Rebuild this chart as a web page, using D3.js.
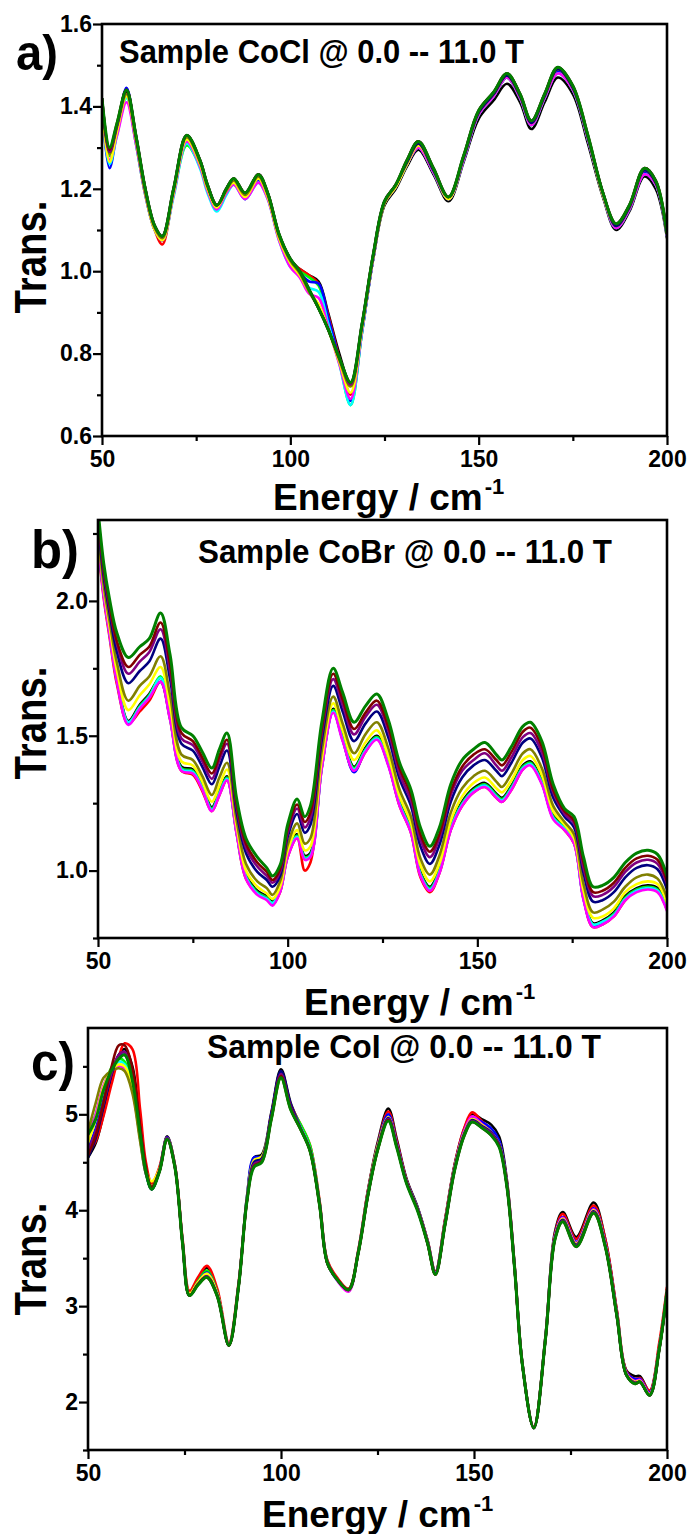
<!DOCTYPE html>
<html>
<head>
<meta charset="utf-8">
<script src="https://cdn.jsdelivr.net/npm/d3@7"></script>
<style>
  body { margin: 0; background: #fff; }
  svg { display: block; }
  text { font-family: "Liberation Sans", Arial, sans-serif; font-weight: bold; fill: #000; }
</style>
</head>
<body>
<svg id="chart" width="691" height="1534"></svg>
<script>
// field steps, one curve each (0.0 -- 11.0 T)
const fields = [0, 1, 2, 3, 4, 5, 6, 7, 8, 9, 10, 11];
const xTicks = [50, 100, 150, 200];
const xMinor = [75, 125, 175];

// ---- a) CoCl ----
const energyA = [50,52,54,56.5,59,61.5,64,66,69,72.5, 76,78,80.5,83,85,88,91.5,94,97,100,
  102.5,105,107.5,110,113,116,119,122,125,128, 131,134,138,142,146,150,154,157.5,161,164,
  167.5,171,175,179,183,186.5,190,194,197,200];
const cocl_0T = [1.40,1.29,1.35,1.435,1.32,1.19,1.105,1.08,1.19,1.32, 1.26,1.20,1.155,1.19,1.215,1.18,1.225,1.18,1.08,1.025,
  1.005,0.99,0.975,0.90,0.80,0.725,0.86,1.03,1.16,1.20, 1.255,1.295,1.235,1.17,1.265,1.37,1.415,1.455,1.41,1.345,
  1.41,1.47,1.43,1.31,1.18,1.10,1.145,1.23,1.20,1.08];
const cocl_1T = [1.40,1.28,1.35,1.43,1.32,1.19,1.10,1.065,1.19,1.325, 1.265,1.205,1.16,1.195,1.22,1.185,1.23,1.18,1.085,1.025,
  1.005,0.99,0.97,0.895,0.79,0.70,0.855,1.03,1.165,1.205, 1.26,1.305,1.24,1.175,1.27,1.38,1.425,1.47,1.42,1.355,
  1.42,1.485,1.44,1.32,1.185,1.105,1.15,1.24,1.21,1.085];
const cocl_2T = [1.40,1.28,1.34,1.425,1.31,1.185,1.10,1.075,1.185,1.305, 1.255,1.20,1.15,1.19,1.215,1.18,1.225,1.18,1.08,1.02,
  1.00,0.985,0.965,0.885,0.78,0.675,0.85,1.03,1.165,1.205, 1.26,1.305,1.24,1.175,1.27,1.38,1.425,1.47,1.42,1.355,
  1.42,1.485,1.44,1.32,1.185,1.105,1.15,1.24,1.21,1.085];
const cocl_3T = [1.39,1.25,1.34,1.445,1.32,1.19,1.10,1.075,1.19,1.315, 1.26,1.20,1.155,1.19,1.215,1.175,1.22,1.18,1.08,1.015,
  0.995,0.975,0.97,0.89,0.785,0.685,0.85,1.03,1.165,1.205, 1.26,1.305,1.24,1.175,1.27,1.38,1.425,1.47,1.42,1.355,
  1.42,1.485,1.44,1.32,1.185,1.105,1.15,1.24,1.21,1.085];
const cocl_4T = [1.39,1.26,1.33,1.42,1.31,1.185,1.10,1.075,1.18,1.31, 1.25,1.19,1.145,1.185,1.21,1.175,1.215,1.175,1.075,1.01,
  0.99,0.96,0.95,0.875,0.775,0.675,0.85,1.03,1.165,1.205, 1.26,1.30,1.24,1.175,1.27,1.38,1.425,1.47,1.42,1.355,
  1.42,1.48,1.44,1.32,1.185,1.105,1.15,1.235,1.21,1.085];
const cocl_5T = [1.39,1.27,1.33,1.41,1.31,1.185,1.10,1.075,1.185,1.315, 1.255,1.195,1.15,1.19,1.21,1.175,1.215,1.175,1.075,1.01,
  0.985,0.945,0.935,0.865,0.775,0.69,0.855,1.03,1.165,1.205, 1.26,1.30,1.24,1.175,1.27,1.38,1.425,1.47,1.42,1.355,
  1.42,1.48,1.44,1.32,1.185,1.105,1.15,1.235,1.21,1.085];
const cocl_6T = [1.40,1.265,1.34,1.425,1.32,1.19,1.10,1.075,1.19,1.32, 1.26,1.20,1.155,1.195,1.215,1.18,1.225,1.18,1.08,1.02,
  0.99,0.95,0.92,0.86,0.78,0.705,0.86,1.035,1.165,1.205, 1.26,1.305,1.245,1.175,1.275,1.385,1.43,1.475,1.425,1.36,
  1.425,1.49,1.445,1.325,1.185,1.11,1.155,1.245,1.215,1.09];
const cocl_7T = [1.41,1.285,1.35,1.43,1.32,1.19,1.105,1.08,1.195,1.325, 1.265,1.205,1.16,1.195,1.22,1.185,1.23,1.185,1.085,1.025,
  0.995,0.95,0.91,0.86,0.785,0.72,0.865,1.035,1.165,1.21, 1.265,1.31,1.245,1.18,1.275,1.385,1.43,1.475,1.425,1.36,
  1.425,1.49,1.445,1.325,1.19,1.11,1.155,1.245,1.215,1.09];
const cocl_8T = [1.42,1.29,1.355,1.44,1.33,1.20,1.11,1.085,1.20,1.33, 1.27,1.21,1.16,1.20,1.225,1.19,1.235,1.19,1.09,1.03,
  1.00,0.955,0.91,0.86,0.79,0.73,0.87,1.04,1.17,1.21, 1.265,1.31,1.245,1.18,1.275,1.385,1.43,1.475,1.425,1.36,
  1.425,1.49,1.445,1.325,1.19,1.11,1.155,1.245,1.215,1.09];
const cocl_9T = [1.42,1.29,1.355,1.44,1.33,1.20,1.11,1.085,1.20,1.33, 1.27,1.21,1.16,1.20,1.225,1.19,1.235,1.19,1.09,1.03,
  1.00,0.955,0.91,0.86,0.79,0.725,0.87,1.04,1.17,1.21, 1.27,1.315,1.25,1.18,1.28,1.39,1.435,1.48,1.43,1.365,
  1.43,1.495,1.45,1.33,1.19,1.115,1.16,1.25,1.22,1.09];
const cocl_10T = [1.42,1.295,1.36,1.44,1.33,1.20,1.11,1.085,1.20,1.33, 1.27,1.21,1.16,1.20,1.225,1.19,1.235,1.19,1.09,1.03,
  1.00,0.955,0.91,0.86,0.79,0.73,0.87,1.04,1.17,1.21, 1.27,1.315,1.25,1.18,1.28,1.39,1.435,1.48,1.43,1.365,
  1.43,1.495,1.45,1.33,1.19,1.115,1.16,1.25,1.22,1.09];
const cocl_11T = [1.42,1.30,1.36,1.44,1.33,1.20,1.11,1.085,1.20,1.33, 1.27,1.21,1.16,1.20,1.225,1.19,1.235,1.19,1.09,1.03,
  1.00,0.955,0.91,0.86,0.79,0.73,0.87,1.04,1.17,1.21, 1.27,1.315,1.25,1.18,1.28,1.39,1.435,1.48,1.43,1.365,
  1.43,1.495,1.45,1.33,1.19,1.115,1.16,1.25,1.22,1.09];
const coclSeries = [cocl_0T, cocl_1T, cocl_2T, cocl_3T, cocl_4T, cocl_5T, cocl_6T, cocl_7T, cocl_8T, cocl_9T, cocl_10T, cocl_11T];

// ---- b) CoBr ----
const energyB = [50,51.5,53,55,58,61,63.5,66.5,69,72, 75,77.5,80,82,84,86.5,89,92,94.5,96,
  98,100,102.5,104.5,106,109,112,114.5,117.5,120.5, 123.5,126.5,129.5,132.5,135,137.5,140,143,146,149,
  152,155,156.5,159,162,164,167,170,173,175.5, 178,180.5,183,186,189,192,195,197.5,200];
const cobr_0T = [2.235,2.035,1.895,1.715,1.555,1.615,1.655,1.715,1.575,1.385, 1.375,1.315,1.235,1.295,1.35,1.155,0.985,0.925,0.905,0.885,
  0.935,1.065,1.135,1.055,1.065,1.395,1.60,1.495,1.385,1.455, 1.50,1.405,1.255,1.155,0.995,0.94,1.005,1.165,1.255,1.305,
  1.325,1.285,1.27,1.315,1.39,1.405,1.335,1.205,1.165,1.115, 0.905,0.805,0.815,0.845,0.905,0.935,0.945,0.935,0.865];
const cobr_1T = [2.21,2.01,1.87,1.69,1.545,1.59,1.63,1.70,1.56,1.37, 1.355,1.295,1.22,1.28,1.335,1.14,0.97,0.915,0.895,0.875,
  0.92,1.05,1.12,1.00,1.03,1.38,1.59,1.485,1.37,1.44, 1.49,1.395,1.24,1.14,0.975,0.92,0.99,1.15,1.24,1.29,
  1.31,1.27,1.255,1.30,1.375,1.395,1.325,1.195,1.15,1.10, 0.895,0.79,0.80,0.83,0.89,0.925,0.935,0.925,0.855];
const cobr_2T = [2.23,2.03,1.89,1.71,1.55,1.61,1.65,1.72,1.57,1.38, 1.37,1.31,1.23,1.29,1.345,1.15,0.98,0.92,0.90,0.88,
  0.93,1.06,1.13,1.05,1.06,1.39,1.595,1.49,1.38,1.45, 1.495,1.40,1.25,1.15,0.99,0.935,1.00,1.16,1.25,1.30,
  1.32,1.28,1.265,1.31,1.385,1.40,1.33,1.20,1.16,1.11, 0.90,0.80,0.81,0.84,0.90,0.93,0.94,0.93,0.86];
const cobr_3T = [2.225,2.025,1.885,1.705,1.545,1.605,1.645,1.70,1.565,1.375, 1.365,1.305,1.225,1.285,1.34,1.145,0.975,0.915,0.895,0.875,
  0.925,1.055,1.125,1.045,1.055,1.385,1.59,1.485,1.365,1.445, 1.49,1.395,1.245,1.145,0.985,0.93,0.995,1.155,1.245,1.295,
  1.315,1.275,1.26,1.305,1.38,1.395,1.325,1.195,1.155,1.105, 0.895,0.795,0.805,0.835,0.895,0.925,0.935,0.925,0.855];
const cobr_4T = [2.23,2.03,1.885,1.705,1.55,1.605,1.645,1.715,1.565,1.375, 1.365,1.305,1.225,1.285,1.34,1.145,0.975,0.915,0.895,0.88,
  0.925,1.055,1.125,1.045,1.055,1.385,1.59,1.485,1.375,1.445, 1.49,1.395,1.245,1.145,0.985,0.93,0.995,1.155,1.245,1.295,
  1.315,1.275,1.26,1.305,1.38,1.395,1.325,1.195,1.155,1.105, 0.895,0.80,0.81,0.835,0.895,0.925,0.935,0.925,0.855];
const cobr_5T = [2.22,2.02,1.88,1.70,1.54,1.60,1.64,1.70,1.56,1.37, 1.36,1.30,1.22,1.28,1.335,1.14,0.97,0.91,0.89,0.87,
  0.92,1.05,1.12,1.04,1.05,1.38,1.585,1.48,1.37,1.44, 1.485,1.39,1.24,1.14,0.98,0.925,0.99,1.15,1.24,1.29,
  1.31,1.27,1.255,1.30,1.375,1.39,1.32,1.19,1.15,1.10, 0.89,0.79,0.80,0.83,0.89,0.92,0.93,0.92,0.85];
const cobr_6T = [2.25,2.05,1.91,1.74,1.595,1.65,1.69,1.755,1.61,1.405, 1.39,1.33,1.255,1.315,1.375,1.17,1.00,0.94,0.915,0.895,
  0.94,1.075,1.15,1.075,1.09,1.415,1.62,1.52,1.41,1.475, 1.52,1.425,1.275,1.175,1.02,0.96,1.025,1.185,1.275,1.325,
  1.345,1.305,1.29,1.335,1.41,1.425,1.355,1.22,1.17,1.12, 0.925,0.825,0.83,0.86,0.92,0.95,0.96,0.95,0.88];
const cobr_7T = [2.26,2.06,1.93,1.77,1.63,1.685,1.72,1.795,1.65,1.43, 1.41,1.35,1.28,1.345,1.40,1.19,1.025,0.96,0.935,0.91,
  0.96,1.095,1.175,1.10,1.12,1.445,1.645,1.545,1.435,1.505, 1.55,1.455,1.30,1.20,1.045,0.985,1.055,1.215,1.305,1.35,
  1.37,1.33,1.31,1.36,1.435,1.45,1.38,1.24,1.18,1.135, 0.95,0.845,0.855,0.885,0.94,0.975,0.985,0.97,0.90];
const cobr_8T = [2.29,2.09,1.96,1.81,1.695,1.74,1.775,1.86,1.71,1.47, 1.445,1.385,1.32,1.385,1.445,1.22,1.065,0.995,0.965,0.94,
  0.98,1.125,1.21,1.14,1.17,1.485,1.685,1.59,1.48,1.545, 1.59,1.495,1.34,1.24,1.09,1.025,1.095,1.255,1.345,1.39,
  1.41,1.37,1.35,1.40,1.475,1.49,1.42,1.27,1.20,1.16, 0.99,0.885,0.89,0.92,0.975,1.01,1.02,1.005,0.93];
const cobr_9T = [2.31,2.11,1.98,1.84,1.73,1.775,1.81,1.895,1.74,1.49, 1.465,1.405,1.34,1.41,1.47,1.24,1.085,1.015,0.98,0.955,
  0.995,1.14,1.23,1.16,1.195,1.51,1.71,1.615,1.505,1.57, 1.615,1.52,1.36,1.26,1.115,1.05,1.12,1.28,1.37,1.41,
  1.435,1.39,1.37,1.42,1.495,1.51,1.44,1.29,1.21,1.175, 1.01,0.905,0.91,0.94,0.995,1.03,1.04,1.025,0.95];
const cobr_10T = [2.32,2.12,1.99,1.85,1.755,1.80,1.83,1.92,1.765,1.51, 1.48,1.42,1.36,1.425,1.485,1.25,1.10,1.03,0.995,0.965,
  1.005,1.155,1.245,1.18,1.215,1.525,1.73,1.635,1.525,1.585, 1.63,1.535,1.38,1.28,1.135,1.07,1.135,1.295,1.385,1.43,
  1.45,1.41,1.39,1.44,1.515,1.53,1.46,1.30,1.22,1.185, 1.03,0.92,0.925,0.955,1.01,1.045,1.055,1.04,0.96];
const cobr_11T = [2.34,2.14,2.01,1.88,1.79,1.83,1.86,1.955,1.80,1.53, 1.50,1.44,1.38,1.45,1.51,1.27,1.12,1.05,1.01,0.98,
  1.02,1.17,1.265,1.20,1.24,1.55,1.75,1.66,1.55,1.61, 1.655,1.56,1.40,1.30,1.16,1.09,1.16,1.32,1.41,1.45,
  1.475,1.43,1.41,1.46,1.535,1.55,1.48,1.32,1.23,1.20, 1.05,0.94,0.945,0.975,1.03,1.065,1.075,1.06,0.98];
const cobrSeries = [cobr_0T, cobr_1T, cobr_2T, cobr_3T, cobr_4T, cobr_5T, cobr_6T, cobr_7T, cobr_8T, cobr_9T, cobr_10T, cobr_11T];

// ---- c) CoI ----
const energyC = [50,52,54,56,58,59.5,61.5,63.5,65,66.5, 68.5,70.5,72.5,74.5,76.3,78.5,80.8,83.5,86.5,89,
  91.2,93,95,97.5,100,102.5,105,107.5,110,112, 114.5,117.5,120,122.5,125,127.8,130,132.5,135.5,138,
  140,142.5,145,147.5,149.5,152,154.5,156.5,158.5,160.5, 162.5,165.5,168.5,171,173,176.5,181,184,187,189.5,
  191.7,193,195.5,198,200];
const coi_0T = [4.55,4.70,5.00,5.35,5.62,5.68,5.50,4.90,4.42,4.22, 4.42,4.77,4.47,3.68,3.13,3.28,3.40,3.15,2.60,3.22,
  4.15,4.55,4.58,5.02,5.47,5.12,4.88,4.64,4.08,3.47, 3.29,3.18,3.57,4.20,4.70,5.06,4.74,4.33,4.02,3.68,
  3.36,3.90,4.48,4.85,5.00,4.95,4.89,4.77,4.32,3.43, 2.42,1.74,2.68,3.78,3.98,3.72,4.08,3.70,2.95,2.33,
  2.27,2.27,2.11,2.58,3.18];
const coi_1T = [4.60,4.72,4.98,5.30,5.60,5.74,5.68,5.05,4.50,4.28, 4.45,4.76,4.48,3.70,3.16,3.30,3.42,3.18,2.62,3.24,
  4.12,4.50,4.54,5.00,5.42,5.10,4.90,4.68,4.10,3.48, 3.30,3.18,3.58,4.20,4.68,5.03,4.72,4.32,4.01,3.68,
  3.36,3.90,4.48,4.86,5.02,4.93,4.84,4.72,4.30,3.44, 2.42,1.74,2.68,3.76,3.96,3.70,4.05,3.70,2.96,2.32,
  2.24,2.25,2.12,2.62,3.20];
const coi_2T = [4.80,5.00,5.28,5.48,5.58,5.55,5.28,4.75,4.38,4.22, 4.41,4.75,4.46,3.67,3.12,3.26,3.37,3.14,2.60,3.21,
  4.12,4.48,4.52,4.98,5.40,5.08,4.90,4.68,4.08,3.46, 3.28,3.17,3.56,4.17,4.65,4.97,4.68,4.30,4.00,3.66,
  3.34,3.87,4.45,4.82,4.96,4.89,4.81,4.69,4.27,3.41, 2.41,1.73,2.66,3.73,3.92,3.66,4.01,3.65,2.92,2.30,
  2.22,2.23,2.09,2.57,3.17];
const coi_3T = [4.65,4.85,5.15,5.42,5.60,5.62,5.38,4.82,4.40,4.22, 4.42,4.76,4.47,3.67,3.12,3.25,3.35,3.13,2.60,3.22,
  4.14,4.55,4.56,5.00,5.44,5.10,4.87,4.64,4.07,3.46, 3.28,3.17,3.56,4.18,4.67,5.00,4.70,4.31,4.01,3.67,
  3.35,3.88,4.46,4.83,4.97,4.92,4.85,4.73,4.29,3.42, 2.41,1.73,2.67,3.74,3.93,3.67,4.02,3.66,2.93,2.31,
  2.24,2.24,2.10,2.57,3.16];
const coi_4T = [4.72,4.95,5.25,5.45,5.55,5.52,5.28,4.75,4.38,4.23, 4.41,4.75,4.46,3.66,3.11,3.24,3.33,3.12,2.60,3.21,
  4.12,4.50,4.53,4.97,5.41,5.07,4.87,4.64,4.06,3.45, 3.27,3.16,3.56,4.16,4.64,4.96,4.68,4.30,4.00,3.66,
  3.34,3.86,4.44,4.81,4.95,4.89,4.81,4.69,4.27,3.41, 2.40,1.73,2.66,3.72,3.91,3.65,4.00,3.64,2.91,2.29,
  2.21,2.22,2.08,2.56,3.16];
const coi_5T = [4.75,5.00,5.30,5.45,5.50,5.48,5.25,4.75,4.38,4.24, 4.41,4.74,4.46,3.66,3.12,3.24,3.33,3.12,2.60,3.21,
  4.11,4.48,4.52,4.96,5.40,5.06,4.86,4.63,4.06,3.45, 3.27,3.15,3.56,4.16,4.64,4.97,4.69,4.30,4.00,3.66,
  3.34,3.87,4.45,4.83,4.98,4.90,4.81,4.69,4.27,3.41, 2.40,1.73,2.66,3.73,3.92,3.66,4.01,3.65,2.92,2.30,
  2.22,2.23,2.09,2.56,3.16];
const coi_6T = [4.70,4.95,5.28,5.45,5.52,5.50,5.30,4.78,4.42,4.30, 4.43,4.75,4.47,3.67,3.13,3.25,3.34,3.13,2.60,3.22,
  4.13,4.52,4.56,4.96,5.39,5.06,4.86,4.63,4.06,3.45, 3.28,3.17,3.56,4.17,4.66,4.97,4.68,4.30,4.00,3.66,
  3.34,3.87,4.45,4.81,4.95,4.89,4.81,4.69,4.27,3.41, 2.40,1.73,2.66,3.72,3.91,3.65,4.00,3.64,2.91,2.29,
  2.21,2.22,2.08,2.56,3.16];
const coi_7T = [4.82,5.12,5.38,5.45,5.48,5.45,5.22,4.72,4.38,4.25, 4.41,4.74,4.45,3.66,3.11,3.22,3.30,3.11,2.59,3.20,
  4.10,4.46,4.50,4.95,5.38,5.05,4.85,4.62,4.05,3.45, 3.28,3.17,3.55,4.15,4.62,4.94,4.66,4.29,3.99,3.65,
  3.33,3.85,4.43,4.79,4.93,4.87,4.79,4.67,4.26,3.40, 2.40,1.73,2.65,3.71,3.89,3.63,3.98,3.63,2.90,2.28,
  2.20,2.21,2.07,2.55,3.15];
const coi_8T = [4.55,4.75,5.08,5.40,5.62,5.65,5.42,4.85,4.40,4.22, 4.41,4.75,4.46,3.66,3.11,3.23,3.31,3.11,2.59,3.21,
  4.12,4.50,4.54,4.99,5.45,5.10,4.86,4.63,4.06,3.45, 3.28,3.17,3.56,4.16,4.64,4.96,4.68,4.30,4.00,3.66,
  3.34,3.86,4.44,4.80,4.94,4.88,4.81,4.69,4.27,3.41, 2.40,1.73,2.65,3.71,3.90,3.64,3.99,3.63,2.90,2.28,
  2.20,2.21,2.07,2.55,3.15];
const coi_9T = [4.62,4.82,5.12,5.42,5.62,5.65,5.42,4.85,4.42,4.23, 4.41,4.75,4.46,3.66,3.11,3.23,3.31,3.11,2.59,3.21,
  4.11,4.48,4.52,4.97,5.42,5.08,4.86,4.63,4.06,3.45, 3.28,3.17,3.55,4.15,4.63,4.95,4.67,4.29,3.99,3.65,
  3.33,3.85,4.43,4.79,4.93,4.87,4.80,4.68,4.26,3.40, 2.40,1.73,2.65,3.71,3.89,3.63,3.98,3.63,2.90,2.28,
  2.20,2.21,2.07,2.55,3.15];
const coi_10T = [4.57,4.78,5.12,5.48,5.72,5.72,5.48,4.88,4.45,4.24, 4.40,4.74,4.45,3.65,3.11,3.23,3.30,3.10,2.59,3.20,
  4.10,4.46,4.51,4.96,5.40,5.06,4.85,4.62,4.05,3.45, 3.28,3.17,3.55,4.15,4.62,4.94,4.66,4.29,3.99,3.65,
  3.33,3.85,4.42,4.78,4.92,4.86,4.78,4.67,4.26,3.40, 2.40,1.73,2.65,3.70,3.88,3.62,3.97,3.62,2.90,2.28,
  2.19,2.21,2.07,2.55,3.15];
const coi_11T = [4.79,4.95,5.25,5.45,5.58,5.62,5.35,4.80,4.40,4.22, 4.40,4.74,4.45,3.65,3.11,3.22,3.30,3.10,2.59,3.20,
  4.10,4.45,4.50,4.95,5.38,5.05,4.85,4.62,4.05,3.45, 3.28,3.17,3.55,4.15,4.62,4.93,4.65,4.28,3.98,3.65,
  3.33,3.85,4.42,4.78,4.92,4.86,4.78,4.66,4.25,3.40, 2.40,1.73,2.65,3.70,3.88,3.62,3.97,3.62,2.90,2.28,
  2.19,2.21,2.07,2.55,3.15];
const coiSeries = [coi_0T, coi_1T, coi_2T, coi_3T, coi_4T, coi_5T, coi_6T, coi_7T, coi_8T, coi_9T, coi_10T, coi_11T];

const yTicksA = [0.6, 0.8, 1.0, 1.2, 1.4, 1.6], yMinorA = [0.7, 0.9, 1.1, 1.3, 1.5];
const yTicksB = [1.0, 1.5, 2.0], yMinorB = [0.75, 1.25, 1.75, 2.25];
const yTicksC = [2, 3, 4, 5], yMinorC = [1.5, 2.5, 3.5, 4.5, 5.5];

// Origin-style line colours, 0 T first, 11 T drawn last
const lineColors = ["#000000", "#ff0000", "#00ff00", "#0000ff", "#00ffff", "#ff00ff",
                    "#ffff00", "#808000", "#000080", "#800080", "#800000", "#008000"];

const panels = [
  { tag: "a)", title: "Sample CoCl @ 0.0 -- 11.0 T", energy: energyA, series: coclSeries,
    yDomain: [0.6, 1.6], yTicks: yTicksA, yMinor: yMinorA, fmt: d3.format(".1f"),
    left: 102, right: 667, top: 24, bottom: 436,
    tagPos: [16, 70, 42, 50], titlePos: [119, 63, 405], transY: 257, xTitle: [273, 510] },
  { tag: "b)", title: "Sample CoBr @ 0.0 -- 11.0 T", energy: energyB, series: cobrSeries,
    yDomain: [0.75, 2.3], yTicks: yTicksB, yMinor: yMinorB, fmt: d3.format(".1f"),
    left: 98, right: 667, top: 520, bottom: 938,
    tagPos: [31, 568, 48, 54], titlePos: [198, 563, 414], transY: 723, xTitle: [304, 1015] },
  { tag: "c)", title: "Sample CoI @ 0.0 -- 11.0 T", energy: energyC, series: coiSeries,
    yDomain: [1.5, 5.9], yTicks: yTicksC, yMinor: yMinorC, fmt: d3.format("d"),
    left: 88, right: 667, top: 1028, bottom: 1450,
    tagPos: [31, 1080, 44, 54], titlePos: [207, 1058, 394], transY: 1259, xTitle: [262, 1527] }
];

const svg = d3.select("#chart");

// squeeze Liberation Sans Bold to an Arial-Narrow-like width
function narrow(sel, target) {
  sel.each(function() {
    const w = this.getComputedTextLength();
    d3.select(this).attr("textLength", target || w * 0.82).attr("lengthAdjust", "spacingAndGlyphs");
  });
}

panels.forEach((p, pi) => {
  const x = d3.scaleLinear().domain([50, 200]).range([p.left, p.right]);
  const y = d3.scaleLinear().domain(p.yDomain).range([p.bottom, p.top]);
  const g = svg.append("g");

  const clipId = "clip" + pi;
  svg.append("clipPath").attr("id", clipId).append("rect")
    .attr("x", p.left).attr("y", p.top).attr("width", p.right - p.left).attr("height", p.bottom - p.top);

  const line = d3.line().curve(d3.curveCatmullRom.alpha(0.5));
  const curves = g.append("g").attr("clip-path", "url(#" + clipId + ")");
  p.series.forEach((vals, i) => {
    const pts = p.energy.map((e, k) => [x(e), y(vals[k])]);
    curves.append("path")
      .attr("d", line(pts))
      .attr("fill", "none")
      .attr("stroke", lineColors[i])
      .attr("stroke-width", i === fields.length - 1 ? 3 : 2.6)
      .attr("stroke-linejoin", "round");
  });

  // axes
  const xAxis = g.append("g").attr("transform", "translate(0," + p.bottom + ")")
    .call(d3.axisBottom(x).tickValues(xTicks).tickSize(9).tickPadding(6).tickFormat(d3.format("d")));
  g.append("g").attr("transform", "translate(0," + p.bottom + ")")
    .call(d3.axisBottom(x).tickValues(xMinor).tickSize(5).tickFormat(""));
  g.append("g").attr("transform", "translate(" + p.left + ",0)")
    .call(d3.axisLeft(y).tickValues(p.yTicks).tickSize(9).tickPadding(1).tickFormat(p.fmt));
  g.append("g").attr("transform", "translate(" + p.left + ",0)")
    .call(d3.axisLeft(y).tickValues(p.yMinor).tickSize(5).tickFormat(""));

  g.selectAll(".domain").remove();
  g.selectAll(".tick line").attr("stroke", "#000").attr("stroke-width", 2.2);
  g.selectAll(".tick text").attr("font-size", 23).attr("fill", "#000")
    .style("font-family", '"Liberation Sans", Arial, sans-serif').style("font-weight", "bold");
  xAxis.selectAll(".tick text").attr("dy", "0.71em");

  // frame
  g.append("rect")
    .attr("x", p.left).attr("y", p.top)
    .attr("width", p.right - p.left).attr("height", p.bottom - p.top)
    .attr("fill", "none").attr("stroke", "#000").attr("stroke-width", 2.6);

  // texts
  g.append("text").attr("x", p.tagPos[0]).attr("y", p.tagPos[1])
    .attr("font-size", p.tagPos[3]).text(p.tag).call(narrow, p.tagPos[2]);
  g.append("text").attr("x", p.titlePos[0]).attr("y", p.titlePos[1])
    .attr("font-size", 33).text(p.title).call(narrow, p.titlePos[2]);
  g.append("text").attr("transform", "translate(46," + p.transY + ") rotate(-90)")
    .attr("text-anchor", "middle").attr("font-size", 44).text("Trans.").call(narrow, 113);
  const xt = g.append("text").attr("x", p.xTitle[0]).attr("y", p.xTitle[1])
    .attr("font-size", 37).text("Energy / cm");
  const xtEnd = p.xTitle[0] + xt.node().getComputedTextLength();
  g.append("text").attr("x", xtEnd + 2).attr("y", p.xTitle[1] - 16)
    .attr("font-size", 22).text("-1");
});
</script>
</body>
</html>
